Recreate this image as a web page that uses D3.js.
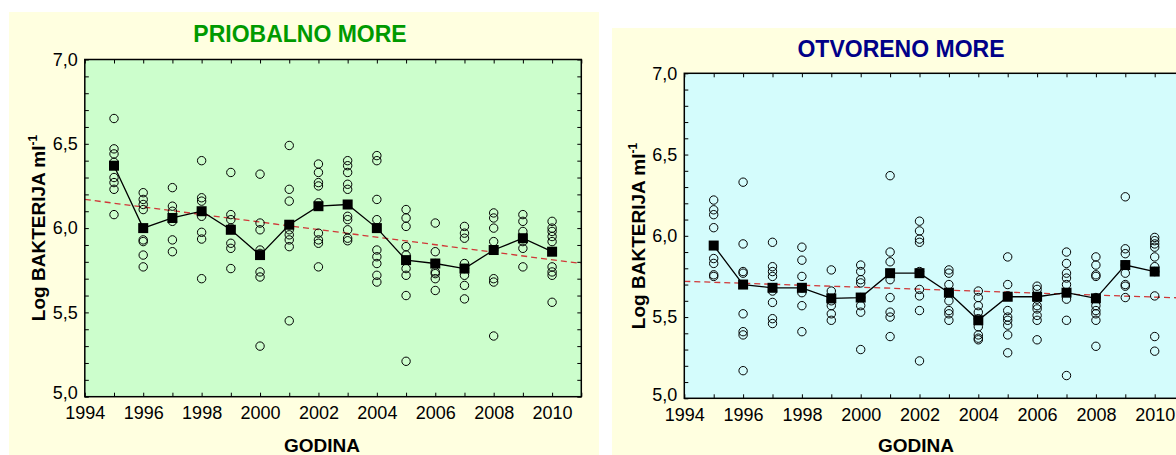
<!DOCTYPE html>
<html><head><meta charset="utf-8">
<script src="https://cdn.jsdelivr.net/npm/d3@7"></script>
<style>
html,body{margin:0;padding:0;background:#fff;}
svg{display:block;font-family:"Liberation Sans",Arial,sans-serif;}
</style></head>
<body><svg id="c" width="1176" height="455"></svg>
<script>
const years = [1995,1996,1997,1998,1999,2000,2001,2002,2003,2004,2005,2006,2007,2008,2009,2010];
const xTickLabels = [1994,1996,1998,2000,2002,2004,2006,2008,2010];
const yTickLabels = [5.0,5.5,6.0,6.5,7.0];

const coastalObs = [
 [6.65,6.47,6.44,6.39,6.30,6.27,6.23,6.08],
 [6.21,6.17,6.14,6.11,5.93,5.92,5.84,5.77],
 [6.24,6.13,6.10,6.06,6.04,5.93,5.86],
 [6.40,6.18,6.16,6.07,5.975,5.935,5.70],
 [6.33,6.08,6.05,6.00,5.91,5.88,5.76],
 [6.32,6.03,5.99,5.87,5.85,5.74,5.71,5.30],
 [6.49,6.23,6.16,6.02,5.99,5.96,5.93,5.89,5.45],
 [6.38,6.33,6.27,6.25,6.15,5.97,5.93,5.91,5.77],
 [6.40,6.37,6.33,6.26,6.23,6.07,6.05,5.99,5.94,5.925],
 [6.43,6.40,6.17,6.05,5.87,5.83,5.79,5.72,5.68],
 [6.11,6.06,6.01,5.89,5.84,5.76,5.72,5.60,5.21],
 [6.03,5.86,5.79,5.74,5.73,5.70,5.63],
 [6.01,5.97,5.94,5.79,5.76,5.72,5.66,5.58],
 [6.09,6.06,6.00,5.92,5.87,5.70,5.68,5.36],
 [6.08,6.04,5.98,5.92,5.88,5.77],
 [6.04,6.00,5.98,5.95,5.92,5.77,5.74,5.72,5.56]
];
const coastalMean = [6.37,6.00,6.06,6.10,5.99,5.84,6.02,6.13,6.14,6.00,5.81,5.79,5.76,5.87,5.94,5.86];
const coastalTrend = [6.17,5.79];   // at 1994 and 2011

const openObs = [
 [6.22,6.16,6.13,6.05,5.86,5.83,5.76,5.75],
 [6.33,5.95,5.78,5.77,5.52,5.41,5.39,5.17],
 [5.96,5.81,5.78,5.75,5.66,5.59,5.49,5.46],
 [5.93,5.85,5.75,5.68,5.65,5.57,5.41],
 [5.79,5.66,5.60,5.57,5.52,5.48],
 [5.82,5.78,5.73,5.71,5.62,5.57,5.53,5.30],
 [6.37,5.90,5.84,5.73,5.62,5.53,5.50,5.38],
 [6.09,6.03,5.98,5.96,5.78,5.67,5.63,5.54,5.23],
 [5.79,5.77,5.70,5.65,5.60,5.54,5.52,5.48],
 [5.66,5.62,5.57,5.53,5.49,5.44,5.39,5.37,5.36],
 [5.87,5.70,5.63,5.54,5.50,5.48,5.45,5.39,5.28],
 [5.69,5.67,5.61,5.57,5.55,5.51,5.48,5.36],
 [5.90,5.83,5.77,5.74,5.70,5.61,5.48,5.14],
 [5.87,5.82,5.76,5.75,5.62,5.57,5.54,5.52,5.48,5.32],
 [6.24,5.92,5.89,5.82,5.77,5.70,5.69,5.62],
 [5.99,5.97,5.95,5.93,5.87,5.81,5.78,5.63,5.38,5.29]
];
const openMean = [5.94,5.70,5.68,5.68,5.615,5.62,5.77,5.77,5.65,5.48,5.625,5.625,5.65,5.615,5.82,5.78];
const openTrend = [5.72,5.617];

const svg = d3.select("#c");
const fmt = d => d3.format(".1f")(d).replace(".", ",");

function panel(o){
  const g = svg.append("g");
  g.append("rect").attr("x",o.px).attr("y",o.py).attr("width",o.pw).attr("height",o.ph).attr("fill","#ffffe0");
  const x = d3.scaleLinear().domain([1994,2011]).range([o.x0,o.x1]);
  const y = d3.scaleLinear().domain([5,7]).range([o.y1,o.y0]);
  g.append("rect").attr("x",o.x0).attr("y",o.y0).attr("width",o.x1-o.x0).attr("height",o.y1-o.y0).attr("fill",o.bg);

  const clipId = "clip"+o.id;
  svg.append("clipPath").attr("id",clipId).append("rect").attr("x",o.x0).attr("y",o.y0).attr("width",o.x1-o.x0).attr("height",o.y1-o.y0);
  const plot = g.append("g").attr("clip-path",`url(#${clipId})`);

  // trend
  plot.append("line").attr("x1",x(1994)).attr("x2",x(2011)).attr("y1",y(o.trend[0])).attr("y2",y(o.trend[1]))
    .attr("stroke","#d03838").attr("stroke-width",1.3).attr("stroke-dasharray","6,4");

  // observations
  const pts = [];
  o.obs.forEach((arr,i)=>arr.forEach(v=>pts.push([years[i],v])));
  plot.selectAll("circle.o").data(pts).join("circle").attr("class","o")
    .attr("cx",d=>x(d[0])).attr("cy",d=>y(d[1])).attr("r",4.2)
    .attr("fill","none").attr("stroke","#000").attr("stroke-width",1);

  // mean line
  const line = d3.line().x((d,i)=>x(years[i])).y(d=>y(d));
  plot.append("path").attr("d",line(o.mean)).attr("fill","none").attr("stroke","#000").attr("stroke-width",1.3);
  plot.selectAll("rect.m").data(o.mean).join("rect").attr("class","m")
    .attr("x",(d,i)=>x(years[i])-5).attr("y",d=>y(d)-5).attr("width",10).attr("height",10).attr("fill","#000");

  // axes
  const allYears = d3.range(1994,2012);
  const minorY = d3.range(50,71).map(d=>d/10);
  const bx = g.append("g").attr("transform",`translate(0,${o.y1})`)
    .call(d3.axisBottom(x).tickValues(allYears).tickSizeInner(-4).tickSizeOuter(0).tickPadding(10)
      .tickFormat(d=>xTickLabels.includes(d)?d:""));
  const tx = g.append("g").attr("transform",`translate(0,${o.y0})`)
    .call(d3.axisTop(x).tickValues(allYears).tickSizeInner(-4).tickSizeOuter(0).tickFormat(""));
  const ly = g.append("g").attr("transform",`translate(${o.x0},0)`)
    .call(d3.axisLeft(y).tickValues(minorY).tickSizeInner(-4).tickSizeOuter(0).tickPadding(7)
      .tickFormat(d=>yTickLabels.some(t=>Math.abs(t-d)<1e-6)?fmt(d):""));
  const ry = g.append("g").attr("transform",`translate(${o.x1},0)`)
    .call(d3.axisRight(y).tickValues(minorY).tickSizeInner(-4).tickSizeOuter(0).tickFormat(""));
  [bx,tx,ly,ry].forEach(a=>{
    a.select(".domain").remove();
    a.selectAll("line").attr("stroke","#000");
    a.selectAll("text").attr("fill","#000").style("font-size","18px").style("font-family","'Liberation Sans',Arial,sans-serif");
  });
  // lift the bottom y label a little so it clears the year labels
  ly.selectAll(".tick").filter(d=>Math.abs(d-5)<1e-6).select("text").attr("dy","0.1em");
  g.append("rect").attr("x",o.x0).attr("y",o.y0).attr("width",o.x1-o.x0).attr("height",o.y1-o.y0)
    .attr("fill","none").attr("stroke","#000").attr("stroke-width",1.5);

  // titles
  g.append("text").attr("x",o.tx).attr("y",o.ty).attr("text-anchor","middle")
    .attr("fill",o.tcolor).style("font-size","23px").style("font-weight","bold").text(o.title);
  g.append("text").attr("x",o.gx).attr("y",o.gy).attr("text-anchor","middle")
    .attr("fill","#000").style("font-size","19px").style("font-weight","bold").text("GODINA");
  const yl = g.append("text").attr("transform",`translate(${o.lx},${o.ly}) rotate(-90)`).attr("text-anchor","middle")
    .attr("fill","#000").style("font-size","19px").style("font-weight","bold");
  yl.append("tspan").text("Log BAKTERIJA ml");
  yl.append("tspan").attr("dy",-8).style("font-size","12px").text("-1");
}

panel({id:"L",px:9,py:12,pw:590,ph:443,x0:84.8,x1:581.3,y0:59.5,y1:396.7,bg:"#ccfecc",
  obs:coastalObs,mean:coastalMean,trend:coastalTrend,title:"PRIOBALNO MORE",tcolor:"#009a00",
  tx:300,ty:42,gx:322,gy:452,lx:45,ly:228});
panel({id:"R",px:612,py:28,pw:600,ph:427,x0:684.3,x1:1184.1,y0:73.3,y1:398.3,bg:"#d4fcfc",
  obs:openObs,mean:openMean,trend:openTrend,title:"OTVORENO MORE",tcolor:"#000088",
  tx:901,ty:57,gx:916,gy:452,lx:645,ly:236});
</script></body></html>
